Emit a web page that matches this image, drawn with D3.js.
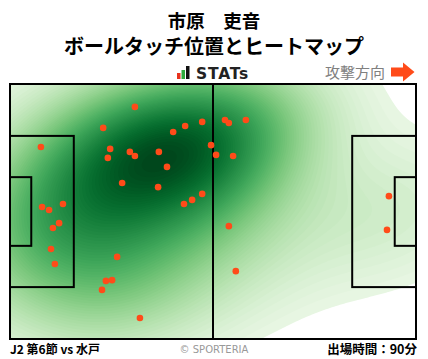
<!DOCTYPE html>
<html>
<head>
<meta charset="utf-8">
<script src="https://cdn.jsdelivr.net/npm/d3@7"></script>
<style>
  body { margin: 0; background: #fff; }
  svg { display: block; }
</style>
</head>
<body>
<div class="canvas"></div>
<script>
// player / match info
const playerName = '市原　吏音';
const chartTitle = 'ボールタッチ位置とヒートマップ';
const matchLabel = 'J2 第6節 vs 水戸';
const minutesLabel = '出場時間：90分';

// ball touch positions, pitch metres (0-105 along, 0-68 across)
const touchX = [32.3, 24.1, 49.7, 45.3, 42.2, 8.0, 25.9, 25.3, 31.0, 32.3,
  38.5, 52.0, 53.3, 40.6, 29.0, 38.3, 49.7, 47.1, 45.0, 8.3,
  10.1, 13.7, 55.6, 56.6, 61.0, 57.7, 98.0, 12.7, 11.1, 10.6,
  11.6, 27.7, 24.8, 26.4, 23.8, 33.6, 56.6, 58.4, 97.5];
const touchY = [6.1, 11.7, 10.1, 11.2, 12.8, 16.8, 17.3, 19.7, 18.1, 19.2,
  18.1, 16.3, 18.9, 22.1, 26.4, 27.5, 29.3, 30.9, 32.0, 32.8,
  33.6, 32.0, 9.6, 10.4, 9.6, 19.2, 29.9, 37.1, 38.4, 44.0,
  48.0, 46.1, 52.5, 52.3, 54.9, 62.4, 37.9, 49.9, 38.9];

const W = 428, H = 359;
const pitch = {left: 10, top: 84, right: 416, bottom: 339};

const svg = d3.select('.canvas')
  .append('svg')
    .attr('width', W)
    .attr('height', H);

const x = d3.scaleLinear().domain([0, 105]).range([pitch.left, pitch.right]);
const y = d3.scaleLinear().domain([0, 68]).range([pitch.top, pitch.bottom]);

// header
svg.append('text')
  .attr('x', 214).attr('y', 28)
  .attr('text-anchor', 'middle')
  .style('font-family', '"Noto Sans CJK JP"')
  .style('font-weight', 'bold')
  .style('font-size', '18.5px')
  .text(playerName);

svg.append('text')
  .attr('x', 214).attr('y', 54)
  .attr('text-anchor', 'middle')
  .style('font-family', '"Noto Sans CJK JP"')
  .style('font-weight', 'bold')
  .style('font-size', '20px')
  .text(chartTitle);

// STATs logo
const logo = svg.append('g');
logo.append('rect').attr('x', 177).attr('y', 73).attr('width', 3.5).attr('height', 6).attr('fill', '#e8321e');
logo.append('rect').attr('x', 181.5).attr('y', 70).attr('width', 3.5).attr('height', 9).attr('fill', '#2eaa3c');
logo.append('rect').attr('x', 186).attr('y', 66).attr('width', 3.5).attr('height', 13).attr('fill', '#111');
logo.append('text')
  .attr('x', 196).attr('y', 79)
  .style('font-family', '"DejaVu Sans"')
  .style('font-weight', 'bold')
  .style('font-size', '15.5px')
  .style('letter-spacing', '0.8px')
  .attr('fill', '#222')
  .text('STATs');

// attack direction
svg.append('text')
  .attr('x', 385).attr('y', 78)
  .attr('text-anchor', 'end')
  .style('font-family', '"Noto Sans CJK JP"')
  .style('font-size', '15px')
  .attr('fill', '#808080')
  .text('攻撃方向');
svg.append('path')
  .attr('d', 'M391,67.5 H403 V62.5 L414.5,72 L403,81.5 V76.5 H391 Z')
  .attr('fill', '#ff4b19');

// heatmap (gaussian kde, widened scott bandwidth, full covariance) in pixel space
const px = touchX.map(d => x(d));
const py = touchY.map(d => y(d));
const n = px.length;
const mx = d3.mean(px), my = d3.mean(py);
let sxx = 0, syy = 0, sxy = 0;
for (let i = 0; i < n; i++) {
  sxx += (px[i] - mx) ** 2;
  syy += (py[i] - my) ** 2;
  sxy += (px[i] - mx) * (py[i] - my);
}
sxx /= (n - 1); syy /= (n - 1); sxy /= (n - 1);
const bwAdjust = 1.55;
const f2 = Math.pow(n, -2 / 6) * bwAdjust * bwAdjust;
const cxx = sxx * f2, cyy = syy * f2, cxy = sxy * f2;
const det = cxx * cyy - cxy * cxy;
const ixx = cyy / det, iyy = cxx / det, ixy = -cxy / det;

const step = 2;
const gw = Math.ceil((pitch.right - pitch.left) / step) + 1;
const gh = Math.ceil((pitch.bottom - pitch.top) / step) + 1;
const grid = new Float64Array(gw * gh);
for (let j = 0; j < gh; j++) {
  for (let i = 0; i < gw; i++) {
    const gx = pitch.left + i * step, gy = pitch.top + j * step;
    let s = 0;
    for (let k = 0; k < n; k++) {
      const dx = gx - px[k], dy = gy - py[k];
      s += Math.exp(-0.5 * (ixx * dx * dx + 2 * ixy * dx * dy + iyy * dy * dy));
    }
    grid[j * gw + i] = s;
  }
}
const maxD = d3.max(grid);
const lowFrac = 0.035;
const levels = d3.range(70).map(i => maxD * (lowFrac + i * (1 - lowFrac) / 70));
const contours = d3.contours().size([gw, gh]).thresholds(levels)(grid);

svg.append('clipPath').attr('id', 'pitchClip')
  .append('rect')
    .attr('x', pitch.left).attr('y', pitch.top)
    .attr('width', pitch.right - pitch.left).attr('height', pitch.bottom - pitch.top);

const color = v => d3.interpolateGreens(0.04 + 0.96 * Math.pow(v / maxD, 0.8));
const heat = svg.append('g')
  .attr('clip-path', 'url(#pitchClip)')
  .append('g')
    .attr('transform', `translate(${pitch.left - step / 2},${pitch.top - step / 2}) scale(${step})`);
heat.selectAll('path')
  .data(contours)
  .enter().append('path')
    .attr('d', d3.geoPath())
    .attr('fill', d => color(d.value))
    .attr('stroke', 'none');

// pitch lines
const lines = svg.append('g')
  .attr('fill', 'none')
  .attr('stroke', '#000')
  .attr('stroke-width', 2);
lines.append('rect')
  .attr('x', x(0)).attr('y', y(0))
  .attr('width', x(105) - x(0)).attr('height', y(68) - y(0));
lines.append('line')
  .attr('x1', x(52.5)).attr('x2', x(52.5)).attr('y1', y(0)).attr('y2', y(68));
// penalty areas and goal areas
[[0, 16.5], [105 - 16.5, 105]].forEach(([a, b]) => {
  lines.append('rect')
    .attr('x', x(a)).attr('y', y(13.84))
    .attr('width', x(b) - x(a)).attr('height', y(54.16) - y(13.84));
});
[[0, 5.5], [105 - 5.5, 105]].forEach(([a, b]) => {
  lines.append('rect')
    .attr('x', x(a)).attr('y', y(24.84))
    .attr('width', x(b) - x(a)).attr('height', y(43.16) - y(24.84));
});

// touches
svg.append('g')
  .selectAll('circle')
  .data(touchX.map((d, i) => [d, touchY[i]]))
  .enter().append('circle')
    .attr('cx', d => x(d[0]))
    .attr('cy', d => y(d[1]))
    .attr('r', 3.3)
    .attr('fill', '#ff4b19');

// footer
svg.append('text')
  .attr('x', 10).attr('y', 354)
  .style('font-family', '"Noto Sans CJK JP"')
  .style('font-weight', 'bold')
  .style('font-size', '12px')
  .text(matchLabel);
svg.append('text')
  .attr('x', 214).attr('y', 353)
  .attr('text-anchor', 'middle')
  .style('font-family', '"DejaVu Sans"')
  .style('font-size', '10px')
  .attr('fill', '#999')
  .text('© SPORTERIA');
svg.append('text')
  .attr('x', 417).attr('y', 354)
  .attr('text-anchor', 'end')
  .style('font-family', '"Noto Sans CJK JP"')
  .style('font-weight', 'bold')
  .style('font-size', '12.5px')
  .text(minutesLabel);
</script>
</body>
</html>
